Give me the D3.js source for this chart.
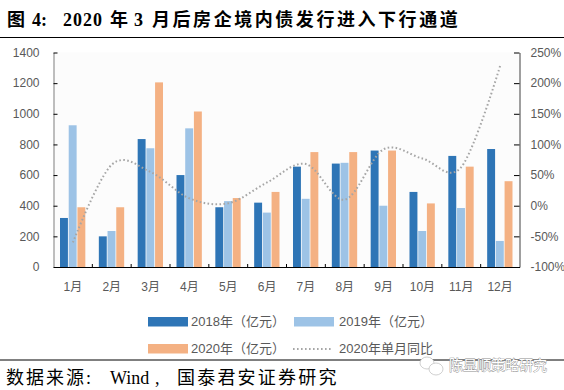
<!DOCTYPE html>
<html><head><meta charset="utf-8">
<script src="https://cdn.jsdelivr.net/npm/d3@7"></script>
<style>html,body{margin:0;padding:0;background:#fff}svg{display:block}</style>
</head><body><svg id="c" width="564" height="390"></svg>
<script>
const months=["1月","2月","3月","4月","5月","6月","7月","8月","9月","10月","11月","12月"];
const s2018=[320,200,835,600,390,420,655,675,760,490,725,770];
const s2019=[925,235,775,905,430,355,445,680,400,235,385,170];
const s2020=[390,390,1205,1015,450,490,750,750,760,415,655,560];
const yoy=[-60,67,55,12,4,38,68,10,92,77,63,228];
const leftTicks=[0,200,400,600,800,1000,1200,1400];
const rightTicks=[-100,-50,0,50,100,150,200,250];
const colors={a:"#2e75b6",b:"#9dc3e6",c:"#f4b183",line:"#a6a6a6"};
const sans='"Liberation Sans","Noto Sans CJK SC",sans-serif';
const serif='"Liberation Serif","Noto Sans CJK SC",serif';
const svg=d3.select("#c");
const L=53.5,R=519.5,T=52.5,B=267;
svg.append("rect").attr("x",L).attr("y",T).attr("width",R-L).attr("height",B-T).attr("fill","#fcfcfc");
const x=d3.scaleBand().domain(months).range([L,R]);
const inner=d3.scaleBand().domain([0,1,2]).range([6.5,x.bandwidth()-7]).paddingInner(0.09);
const y=d3.scaleLinear().domain([0,1400]).range([B,T]);
const y2=d3.scaleLinear().domain([-100,250]).range([B,T]);
[[s2018,colors.a],[s2019,colors.b],[s2020,colors.c]].forEach(([vals,col],k)=>{
  svg.append("g").selectAll("rect").data(vals).join("rect")
    .attr("x",(d,i)=>x(months[i])+inner(k)).attr("width",inner.bandwidth())
    .attr("y",d=>y(d)).attr("height",d=>B-y(d)).attr("fill",col);
});
const line=d3.line().x((d,i)=>x(months[i])+x.bandwidth()/2).y(d=>y2(d)).curve(d3.curveCardinal.tension(0));
svg.append("path").attr("d",line(yoy)).attr("fill","none").attr("stroke",colors.line)
  .attr("stroke-width",2).attr("stroke-dasharray","1.6 2.4");
function styleAxis(g,col){
  g.selectAll("text").attr("font-family",sans).attr("font-size",12).attr("fill","#595959");
  g.select(".domain").attr("stroke",col);
  g.selectAll(".tick line").attr("stroke","#000");
}
const gl=svg.append("g").attr("transform",`translate(${L},0)`)
  .call(d3.axisLeft(y).tickValues(leftTicks).tickFormat(d3.format("d")).tickSize(-4).tickSizeOuter(0).tickPadding(14));
styleAxis(gl,"#7f7f7f");
const gr=svg.append("g").attr("transform",`translate(${R},0)`)
  .call(d3.axisRight(y2).tickValues(rightTicks).tickSize(-5.5).tickSizeOuter(0).tickPadding(11).tickFormat(d=>d+"%"));
styleAxis(gr,"#7f7f7f"); gr.select(".domain").attr("stroke-width",1.5);
const gb=svg.append("g").attr("transform",`translate(0,${B})`)
  .call(d3.axisBottom(x).tickSize(0).tickPadding(13));
styleAxis(gb,"#000");
gb.selectAll(".tick text").attr("dy","0.9em");
svg.append("g").selectAll("line").data(months.slice(1)).join("line")
  .attr("x1",d=>x(d)).attr("x2",d=>x(d)).attr("y1",B).attr("y2",B-3).attr("stroke","#000");
// legend
const lg=[["2018年（亿元）",colors.a,148,191,321.5],["2019年（亿元）",colors.b,294,339,321.5],["2020年（亿元）",colors.c,148,191,348.5]];
lg.forEach(([t,c,sx,tx,cy])=>{
  svg.append("rect").attr("x",sx).attr("y",cy-4.5).attr("width",40).attr("height",9.5).attr("fill",c);
  svg.append("text").attr("x",tx).attr("y",cy+4.5).attr("font-family",sans).attr("font-size",13).attr("fill","#595959").text(t);
});
svg.append("line").attr("x1",293).attr("x2",333).attr("y1",349).attr("y2",349).attr("stroke",colors.line).attr("stroke-width",2).attr("stroke-dasharray","1.6 2.4");
svg.append("text").attr("x",339).attr("y",353).attr("font-family",sans).attr("font-size",13).attr("fill","#595959").text("2020年单月同比");
// title & rules
const title=svg.append("text").attr("y",26).attr("font-family",serif).attr("font-size",18).attr("font-weight","bold").attr("fill","#000");
[["图",7,0],["4:",32,0],["2020",63,1],["年",110,0],["3",134,0],["月后房企境内债发行进入下行通道",152,2.55]].forEach(([t,px,ls])=>{
  title.append("tspan").attr("x",px).attr("letter-spacing",ls).text(t);
});
svg.append("line").attr("x1",0).attr("x2",564).attr("y1",37.5).attr("y2",37.5).attr("stroke","#000");
svg.append("line").attr("x1",0).attr("x2",564).attr("y1",360).attr("y2",360).attr("stroke","#000");
const foot=svg.append("text").attr("y",384).attr("font-family",serif).attr("font-size",18).attr("fill","#000");
[["数据来源:",6,2],["Wind",110,0],[",",155,0],["国泰君安证券研究",177,2.2]].forEach(([t,px,ls])=>{
  foot.append("tspan").attr("x",px).attr("letter-spacing",ls).text(t);
});
// watermark
svg.append("text").attr("x",449).attr("y",370).attr("font-family",sans).attr("font-size",14).attr("fill","#fff").attr("stroke","#8c8c8c").attr("stroke-width",0.8).attr("paint-order","stroke").text("陈显顺策略研究");
const wm=svg.append("g").attr("fill","#fff").attr("stroke","#c4c4c4").attr("stroke-width",0.8);
wm.append("ellipse").attr("cx",427).attr("cy",363).attr("rx",7).attr("ry",6);
wm.append("ellipse").attr("cx",436).attr("cy",369).attr("rx",7).attr("ry",6);
</script></body></html>
